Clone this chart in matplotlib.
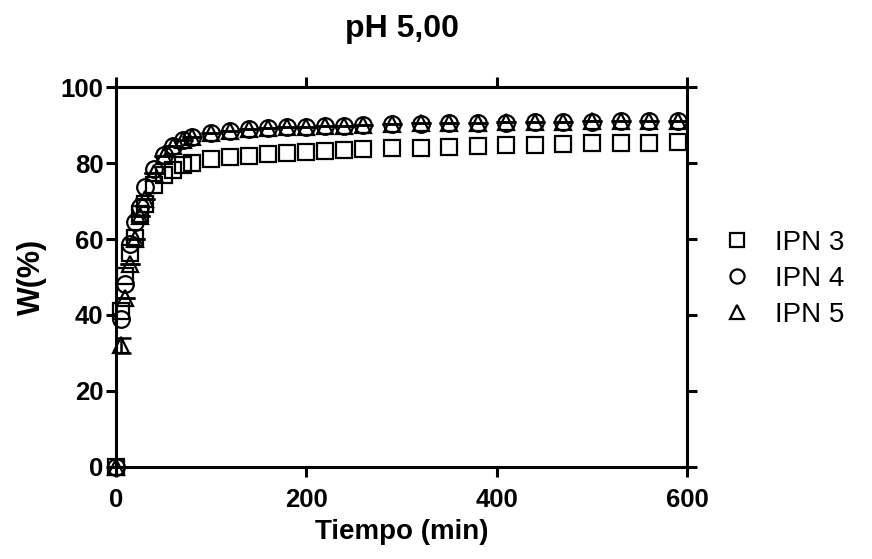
import matplotlib
matplotlib.use("Agg")
import matplotlib.pyplot as plt
import numpy as np

# Swelling kinetics at pH 5,00
tiempo = [0, 5, 10, 15, 20, 25, 30, 40, 50, 60, 70, 80,
          100, 120, 140, 160, 180, 200, 220, 240, 260,
          290, 320, 350, 380, 410, 440, 470, 500, 530, 560, 590]

ipn3 = [0, 41.0, 50.3, 56.4, 60.3, 66.5, 69.1, 74.3, 77.0, 78.3, 79.6, 80.0,
        81.2, 81.5, 81.9, 82.4, 82.7, 82.9, 83.3, 83.5, 83.7, 84.0,
        84.1, 84.3, 84.5, 84.7, 84.9, 85.0, 85.2, 85.3, 85.4, 85.5]

ipn4 = [0, 38.9, 48.1, 58.6, 64.5, 68.4, 73.6, 78.5, 82.2, 84.6, 86.1, 87.0,
        87.9, 88.5, 89.0, 89.2, 89.4, 89.5, 89.8, 89.9, 90.1, 90.2,
        90.4, 90.5, 90.6, 90.7, 90.8, 90.9, 90.9, 91.0, 91.0, 91.1]

ipn5 = [0, 32.0, 44.5, 53.5, 60.0, 66.0, 70.5, 77.5, 82.0, 84.5, 86.0, 87.0,
        88.0, 88.5, 89.0, 89.2, 89.4, 89.5, 89.8, 89.9, 90.1, 90.3,
        90.5, 90.6, 90.7, 90.8, 90.9, 90.9, 91.0, 91.0, 91.1, 91.2]
ipn5_err = [0, 2.0] + [0] * 30

plt.rcParams.update({
    "font.family": ["Liberation Sans", "DejaVu Sans"],
    "axes.linewidth": 2.2,
})

fig = plt.figure(figsize=(8.72, 5.59), dpi=100)
ax = fig.add_axes([0.133, 0.165, 0.655, 0.679])

mk = dict(ls="none", mfc="none", mec="black", mew=1.6, ms=12, clip_on=False, zorder=3)
ax.plot(tiempo, ipn3, marker="s", label="IPN 3", **mk)
ax.plot(tiempo, ipn4, marker="o", label="IPN 4", **mk)
ax.plot(tiempo, ipn5, marker="^", label="IPN 5", **mk)
ax.errorbar(tiempo, ipn5, yerr=ipn5_err, fmt="none", ecolor="black",
            elinewidth=1.8, capsize=7, capthick=1.8, zorder=3)

ax.set_xlim(0, 600)
ax.set_ylim(0, 100)
ax.set_xticks([0, 200, 400, 600])
ax.set_yticks([0, 20, 40, 60, 80, 100])
ax.tick_params(axis="both", which="major", direction="out", length=7, width=2.2,
               labelsize=18.5, top=True, right=True, labeltop=False, labelright=False)
ax.tick_params(axis="x", pad=8)
ax.tick_params(axis="y", pad=2)
for lbl in ax.get_xticklabels() + ax.get_yticklabels():
    lbl.set_fontweight("bold")

ax.set_xlabel("Tiempo (min)", fontsize=20, fontweight="bold", labelpad=5)
ax.set_ylabel("W(%)", fontsize=22, fontweight="bold", labelpad=10)
ax.set_title("pH 5,00", fontsize=23, fontweight="bold", pad=36)

leg = ax.legend(loc="center left", bbox_to_anchor=(1.015, 0.495),
                frameon=False, fontsize=20, markerscale=0.85, handletextpad=0.75,
                labelspacing=0.35, handlelength=1.2)

fig.savefig("out.png", dpi=100)
